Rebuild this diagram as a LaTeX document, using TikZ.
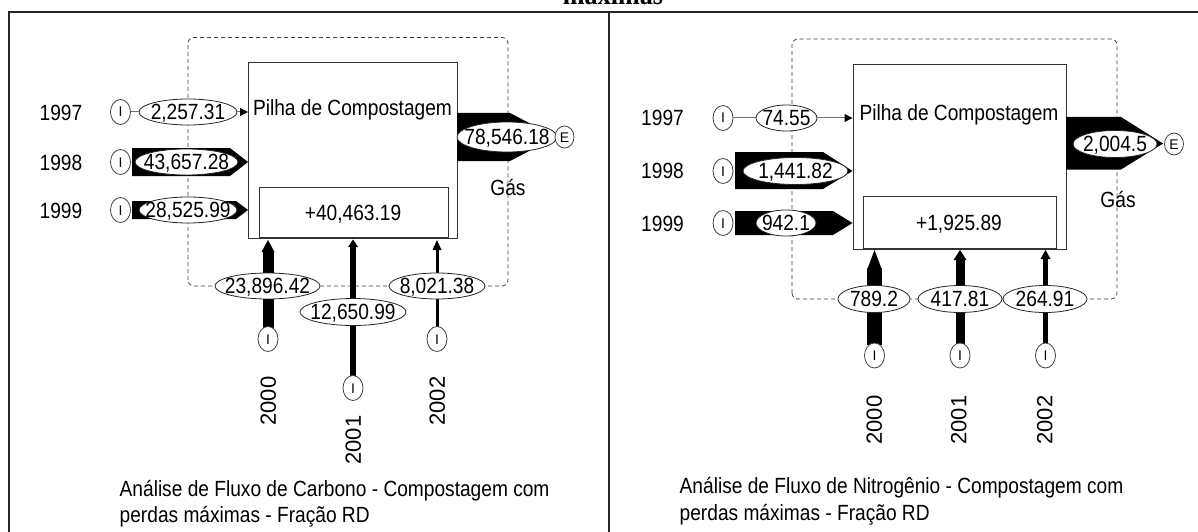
\documentclass[tikz,border=0pt]{standalone}
\usepackage{fontspec}
\usetikzlibrary{shapes.geometric,arrows.meta}
\newfontfamily\nf[FakeStretch=0.87]{Liberation Sans}
\newfontfamily\nfr{Liberation Sans}
\newfontfamily\tfam[FakeStretch=0.87]{Liberation Serif}
\begin{document}
\begin{tikzpicture}[x=1pt,y=-1pt,
  lbl/.style={inner sep=0pt, font=\nf\fontsize{22}{26}\selectfont, text height=15.8pt, text depth=0pt},
  val/.style={lbl, ellipse, draw=black!85, line width=0.8pt, fill=white, minimum height=26pt},
  io/.style={ellipse, draw=black!75, line width=0.8pt, fill=white, inner sep=0pt, minimum width=20pt, minimum height=25pt, font=\nfr\fontsize{14}{16}\selectfont, text height=10pt, text depth=0pt},
  yr/.style={inner sep=0pt, font=\nfr\fontsize{22}{26}\selectfont, text height=15.8pt, text depth=0pt, rotate=90},
  box/.style={draw=black!80, line width=1pt, inner sep=0pt},
  sysb/.style={draw=black!75, dash pattern=on 4pt off 3pt, line width=0.8pt, rounded corners=6pt},
  thinl/.style={draw=black!55, line width=1pt},
  headarr/.style={-{Triangle[length=8pt,width=8pt,color=black]}},
  frame/.style={draw=black!85, line width=1.3pt}
]
\useasboundingbox (0,0) rectangle (1198,532);
\clip (0,0) rectangle (1198,532);
\fill[white] (0,0) rectangle (1198,532);

% title and table frame
\node[font=\tfam\bfseries\fontsize{30}{30}\selectfont, anchor=base, inner sep=0pt] (title) at (613,5) {máximas};
\draw[frame] (9,532) -- (9,12) -- (1198,12);
\draw[frame] (609,12) -- (609,532);

% ================= LEFT PANEL (Carbon) =================
\draw[sysb] (188,286) rectangle (508,37.5);
\node[box, anchor=north west, minimum width=209pt, minimum height=176pt] (cbox) at (248,62) {};
\node[box, anchor=south west, minimum width=189pt, minimum height=50pt] (cstk) at (258.5,238) {};
\node[lbl] (ctitle) at (352.5,108) {Pilha de Compostagem};
\node[lbl] (cstkv) at (353,213) {+40,463.19};

% inputs left
\node[lbl] (cy97) at (61,113) {1997};
\node[lbl] (cy98) at (61,163) {1998};
\node[lbl] (cy99) at (61,211) {1999};
\fill (132,148) -- (230,148) -- (248,162) -- (230,176) -- (132,176) -- cycle;
\fill (132,201) -- (236,201) -- (248,210) -- (236,219) -- (132,219) -- cycle;
\node[io] (ci97) at (120.5,112) {I};
\node[io] (ci98) at (120.5,162) {I};
\node[io] (ci99) at (120.5,210) {I};
\node[val, minimum width=98pt] (cv97) at (188,112) {\makebox[0pt]{2,257.31}};
\draw[thinl] (ci97) -- (cv97);
\draw[thinl, headarr] (cv97.east) -- (cv97.east -| cbox.west);
\node[val, minimum width=103pt] (cv98) at (186.5,162) {\makebox[0pt]{43,657.28}};
\node[val, minimum width=98pt] (cv99) at (188,210) {\makebox[0pt]{28,525.99}};

% output left
\fill (457,113) -- (510,113) -- (556,137) -- (510,161) -- (457,161) -- cycle;
\node[val, minimum width=100pt, minimum height=30pt] (cvout) at (507,137) {\makebox[0pt]{78,546.18}};
\node[io, minimum width=19pt, minimum height=22pt] (ceout) at (564.5,137) {E};
\node[lbl] (cgas) at (508,188) {Gás};

% bottom inputs left
\fill (262.5,330) rectangle (273.5,251);
\fill (261.5,252) -- (268,240) -- (274.5,252) -- cycle;
\fill (350,380) rectangle (356,246);
\fill (348,247) -- (353,239.5) -- (358,247) -- cycle;
\fill (435.5,330) rectangle (438.5,249);
\fill (432.5,250) -- (437,240) -- (441.5,250) -- cycle;
\node[io] (ci00) at (268,339) {I};
\node[io] (ci01) at (353,388) {I};
\node[io] (ci02) at (437,339) {I};
\node[val, minimum width=105pt] (cv00) at (267.5,286) {\makebox[0pt]{23,896.42}};
\node[val, minimum width=106pt, minimum height=27pt] (cv01) at (353,312) {\makebox[0pt]{12,650.99}};
\node[val, minimum width=96pt] (cv02) at (437,286) {\makebox[0pt]{8,021.38}};
\node[yr] (cy00) at (268,401) {2000};
\node[yr] (cy01) at (353,440) {2001};
\node[yr] (cy02) at (437,401) {2002};

\node[lbl, anchor=west] (ccap1) at (119.5,489) {Análise de Fluxo de Carbono - Compostagem com};
\node[lbl, anchor=west] (ccap2) at (119.5,515) {perdas máximas - Fração RD};

% ================= RIGHT PANEL (Nitrogen) =================
\draw[sysb] (792,299) rectangle (1117,39);
\node[box, anchor=north west, minimum width=213.5pt, minimum height=185pt] (nbox) at (852.5,64.3) {};
\node[box, anchor=south west, minimum width=193pt, minimum height=52.5pt] (nstk) at (863,249.3) {};
\node[lbl] (ntitle) at (959,113) {Pilha de Compostagem};
\node[lbl] (nstkv) at (959,223) {+1,925.89};

\node[lbl] (ny97) at (662.5,118) {1997};
\node[lbl] (ny98) at (662.5,171) {1998};
\node[lbl] (ny99) at (662.5,224) {1999};
\fill (735,152) -- (823,152) -- (852.5,171) -- (823,189) -- (735,189) -- cycle;
\fill (735,211) -- (833,211) -- (852.5,223) -- (833,235) -- (735,235) -- cycle;
\node[io] (ni97) at (723,118) {I};
\node[io] (ni98) at (723,171) {I};
\node[io] (ni99) at (723,223) {I};
\node[val, minimum width=61pt] (nv97) at (786.5,118) {\makebox[0pt]{74.55}};
\draw[thinl] (ni97) -- (nv97);
\draw[thinl, headarr] (nv97.east) -- (nv97.east -| nbox.west);
\node[val, minimum width=105pt, minimum height=27pt] (nv98) at (795.5,171) {\makebox[0pt]{1,441.82}};
\node[val, minimum width=60pt] (nv99) at (786,223) {\makebox[0pt]{942.1}};

% output right
\fill (1066,117) -- (1121,117) -- (1163,143.5) -- (1121,169.5) -- (1066,169.5) -- cycle;
\node[val, minimum width=84pt, minimum height=27pt] (nvout) at (1115,144) {\makebox[0pt]{2,004.5}};
\node[io, minimum width=19pt, minimum height=22pt] (neout) at (1174,144) {E};
\node[lbl] (ngas) at (1118,200) {Gás};

% bottom inputs right
\fill (867,345) rectangle (882,268);
\fill (867,270) -- (874.5,250) -- (882,270) -- cycle;
\fill (955.5,345) rectangle (964.5,259);
\fill (953.5,260) -- (960,250) -- (966.5,260) -- cycle;
\fill (1043,345) rectangle (1048,258);
\fill (1040.5,259) -- (1045.5,250) -- (1050.5,259) -- cycle;
\node[io] (ni00) at (874.5,355.5) {I};
\node[io] (ni01) at (960,355.5) {I};
\node[io] (ni02) at (1045.5,355.5) {I};
\node[val, minimum width=72pt, minimum height=27pt] (nv00) at (874,299) {\makebox[0pt]{789.2}};
\node[val, minimum width=84pt, minimum height=27pt] (nv01) at (960,299) {\makebox[0pt]{417.81}};
\node[val, minimum width=84pt, minimum height=27pt] (nv02) at (1045,299) {\makebox[0pt]{264.91}};
\node[yr] (ny00) at (874,420) {2000};
\node[yr] (ny01) at (958.5,420) {2001};
\node[yr] (ny02) at (1044.5,420) {2002};

\node[lbl, anchor=west] (ncap1) at (679.5,486) {Análise de Fluxo de Nitrogênio - Compostagem com};
\node[lbl, anchor=west] (ncap2) at (679.5,513) {perdas máximas - Fração RD};
\end{tikzpicture}
\end{document}
